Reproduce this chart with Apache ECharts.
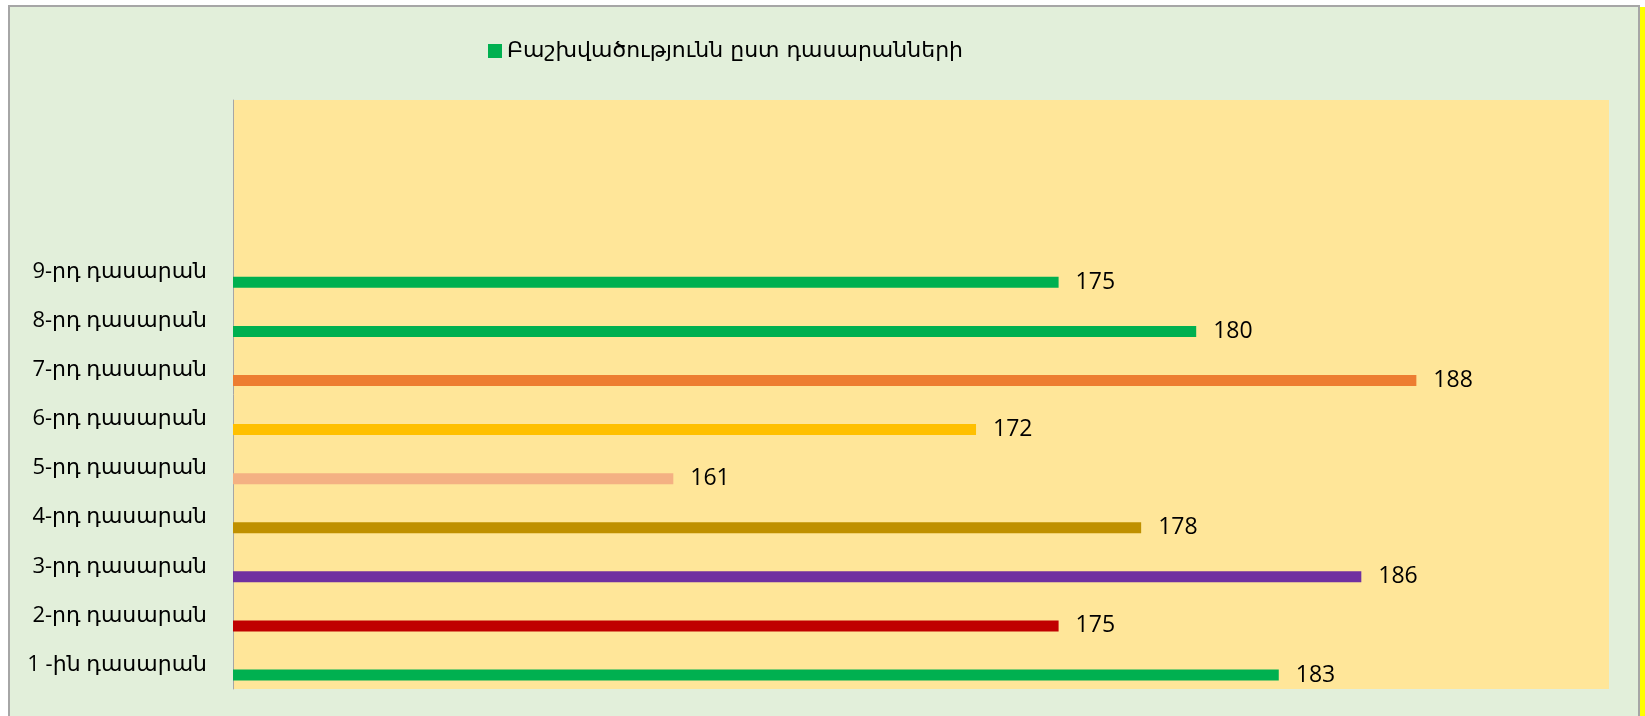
<!DOCTYPE html>
<html>
<head>
<meta charset="utf-8">
<script src="https://cdn.jsdelivr.net/npm/echarts@6/dist/echarts.min.js"></script>
<style>
html, body {
  margin: 0;
  padding: 0;
  background-color: #ffffff;
  overflow: hidden;
}
.frame {
  position: absolute;
  left: 8px;
  top: 5px;
  width: 1628px;
  height: 730px;
  background-color: #e2efda;
  border-left: 2px solid #a6a6a6;
  border-top: 2px solid #a6a6a6;
  border-right: 2px solid #a6a6a6;
}
.strip {
  position: absolute;
  left: 1640px;
  top: 7px;
  width: 5px;
  height: 720px;
  background-color: #ffff00;
}
#chart {
  position: absolute;
  left: 0;
  top: 0;
  width: 1645px;
  height: 716px;
}
</style>
</head>
<body>
<div class="frame"></div>
<div class="strip"></div>
<div id="chart"></div>
<script>
// դասարաններ (ներքևից վերև), վերջին երեքը դատարկ են
const categories = ['1 -ին դասարան', '2-րդ դասարան', '3-րդ դասարան', '4-րդ դասարան',
  '5-րդ դասարան', '6-րդ դասարան', '7-րդ դասարան', '8-րդ դասարան', '9-րդ դասարան', '', '', '']
const values = [183, 175, 186, 178, 161, 172, 188, 180, 175]
const barColors = ['#00b050', '#c00000', '#7030a0', '#bf9000', '#f4b183',
  '#ffc000', '#ed7d31', '#00b050', '#00b050']
const seriesName = 'Բաշխվածությունն ըստ դասարանների'

const chart = echarts.init(document.getElementById('chart'))

const option = {
  animation: false,
  legend: {
    data: [seriesName],
    left: 483,
    top: 35,
    itemWidth: 14,
    itemHeight: 14,
    itemGap: 6,
    icon: 'rect',
    textStyle: {
      fontFamily: '"DejaVu Sans", sans-serif',
      fontSize: 22,
      color: '#000'
    }
  },
  grid: {
    left: 233,
    top: 100,
    right: 36,
    bottom: 27,
    show: true,
    backgroundColor: '#ffe699',
    borderWidth: 0
  },
  xAxis: {
    type: 'value',
    min: 145,
    max: 195,
    show: false
  },
  yAxis: {
    type: 'category',
    data: categories,
    axisTick: { show: false },
    axisLine: { lineStyle: { color: '#a6a6a6', width: 1 } },
    axisLabel: {
      margin: 26,
      interval: 0,
      color: '#000',
      fontFamily: '"Open Sans", "DejaVu Sans", sans-serif',
      fontSize: 22
    }
  },
  series: [
    {
      // դատարկ շարք՝ սյուները խմբի ներքևի մասում տեղավորելու համար
      name: 'pad',
      type: 'bar',
      barWidth: 11,
      barGap: '91%',
      data: categories.map(() => null)
    },
    {
      name: seriesName,
      type: 'bar',
      barWidth: 11,
      itemStyle: { color: '#00b050' },
      label: {
        show: true,
        position: 'right',
        distance: 17,
        formatter: '{c}',
        color: '#000',
        fontFamily: '"Open Sans", sans-serif',
        fontSize: 23
      },
      data: values.map((v, i) => ({ value: v, itemStyle: { color: barColors[i] } }))
    }
  ]
}

chart.setOption(option)
</script>
</body>
</html>
